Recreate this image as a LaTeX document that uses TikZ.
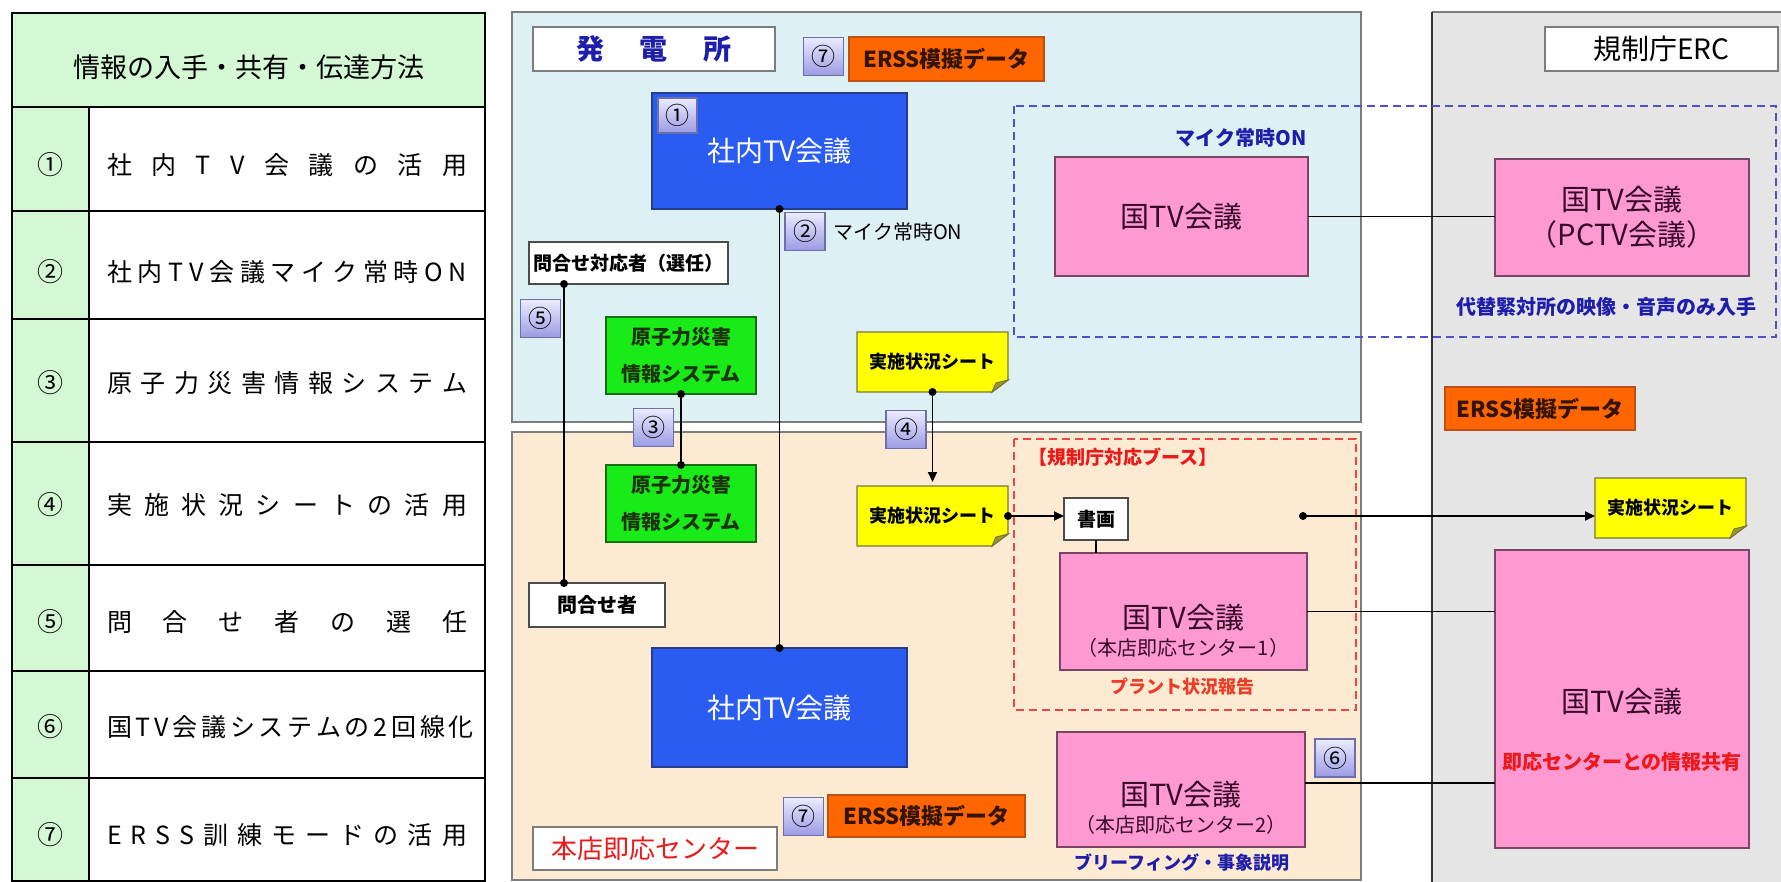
\documentclass[tikz,border=0pt]{standalone}
\usepackage{fontspec}
\setmainfont{Noto Sans CJK JP}
\usetikzlibrary{arrows.meta,calc}
\definecolor{tgreen}{RGB}{212,247,212}
\definecolor{cyanbg}{RGB}{221,241,244}
\definecolor{peachbg}{RGB}{253,234,210}
\definecolor{graybg}{RGB}{229,229,229}
\definecolor{regline}{RGB}{125,125,125}
\definecolor{tvblue}{RGB}{42,92,242}
\definecolor{tvblueline}{RGB}{40,60,140}
\definecolor{tvpink}{RGB}{255,153,210}
\definecolor{pinkline}{RGB}{120,70,100}
\definecolor{pinktext}{RGB}{55,10,40}
\definecolor{sysgreen}{RGB}{25,235,25}
\definecolor{sysline}{RGB}{20,110,20}
\definecolor{greentext}{RGB}{30,50,10}
\definecolor{sheety}{RGB}{255,255,0}
\definecolor{sheetline}{RGB}{120,120,60}
\definecolor{folddark}{RGB}{160,150,40}
\definecolor{erssor}{RGB}{255,102,0}
\definecolor{erssline}{RGB}{190,80,20}
\definecolor{erstext}{RGB}{50,20,0}
\definecolor{navy}{RGB}{30,30,170}
\definecolor{redtxt}{RGB}{235,25,25}
\definecolor{plantred}{RGB}{235,60,40}
\definecolor{badgetop}{RGB}{235,235,255}
\definecolor{badgebot}{RGB}{155,155,228}
\definecolor{badgeline}{RGB}{110,110,170}
\definecolor{dashblue}{RGB}{80,80,200}
\definecolor{dashred}{RGB}{235,70,70}
\pgfdeclarelayer{back}\pgfdeclarelayer{mid}\pgfsetlayers{back,mid,main}
\newcommand\fsz[2]{\fontsize{#1}{#2}\selectfont}
\newcommand\stickyshape[1]{%
  \filldraw[fill=sheety, draw=sheetline, line width=0.7pt] (#1.north west) -- (#1.north east) -- ($(#1.south east)+(0,-12)$) -- ($(#1.south east)+(-16,0)$) -- (#1.south west) -- cycle;
  \filldraw[fill=folddark, draw=sheetline, line width=0.5pt] ($(#1.south east)+(0,-12)$) -- ($(#1.south east)+(-16,0)$) -- ($(#1.south east)+(-12,-9)$) -- cycle;}
\newcommand\dotat[1]{\fill (#1) circle[radius=2pt];}
\begin{document}
\begin{tikzpicture}[x=0.5pt,y=-0.5pt,
  sz/.style 2 args={minimum width=#1*0.5pt, minimum height=#2*0.5pt},
  base/.style={rectangle, inner sep=0pt, outer sep=0pt, align=center},
  labelbox/.style={base, fill=white, draw=regline, line width=0.9pt},
  tvbox/.style={base, fill=tvblue, draw=tvblueline, line width=0.8pt, text=white, font=\fsz{14pt}{17pt}},
  pinkbox/.style={base, fill=tvpink, draw=pinkline, line width=0.8pt, text=pinktext},
  pinktxt/.style={text=pinktext, inner sep=0pt},
  sysbox/.style={base, fill=sysgreen, draw=sysline, line width=0.8pt, text=greentext, font=\bfseries\fsz{10pt}{18.5pt}},
  sheet/.style={base, text=black, font=\bfseries\fsz{9pt}{11pt}},
  erss/.style={base, fill=erssor, draw=erssline, line width=0.8pt, text=erstext, font=\bfseries\fsz{11pt}{13pt}},
  badge/.style={base, top color=badgetop, bottom color=badgebot, draw=badgeline, line width=0.6pt, font=\fsz{12pt}{14pt}, sz={40}{38}},
  whitebox/.style={base, fill=white, draw=black!70, line width=0.8pt, font=\bfseries\fsz{9.5pt}{11pt}},
  note/.style={inner sep=0pt, font=\bfseries\fsz{10pt}{12pt}},
  rowtext/.style={inner sep=0pt, font=\fsz{12.5pt}{15pt}},
  rownum/.style={inner sep=0pt, font=\fsz{13pt}{15pt}},
  conn/.style={draw=black, line width=0.9pt},
  arr/.style={conn, -{Triangle[length=5pt,width=4.5pt]}},
  tline/.style={draw=black, line width=1pt}
]
\useasboundingbox (0,0) rectangle (1781,882);
\begin{pgfonlayer}{back}
  \fill[white] (0,0) rectangle (1781,882);
  \filldraw[fill=cyanbg, draw=regline, line width=0.9pt] (512,12) rectangle (1361,422);
  \filldraw[fill=peachbg, draw=regline, line width=0.9pt] (512,432) rectangle (1361,880);
  \fill[graybg] (1432,12) rectangle (1781,882);
  \draw[regline, line width=0.9pt] (1781,12) -- (1432,12);
  \draw[black!80, line width=0.8pt] (1432,12) -- (1432,882);
  % table
  \fill[tgreen] (12,13) rectangle (485,107);
  \fill[tgreen] (12,107) rectangle (89,881);
  \draw[tline] (12,13) rectangle (485,881);
  \foreach \yy in {107,211,319,442,565,671,778} \draw[tline] (12,\yy) -- (485,\yy);
  \draw[tline] (89,107) -- (89,881);
\end{pgfonlayer}

% table texts
\node[inner sep=0pt, font=\fsz{13.5pt}{16pt}] (hdr) at (249,67) {情報の入手・共有・伝達方法};
\node[rownum] (n1) at (50,165) {①};
\node[rowtext] (t1) at (287,165) {\makebox[180pt][s]{社 内 T V 会 議 の 活 用}};
\node[rownum] (n2) at (50,272) {②};
\node[rowtext] (t2) at (287,272) {\makebox[180pt][s]{社 内 T V 会 議 マ イ ク 常 時 O N}};
\node[rownum] (n3) at (50,383) {③};
\node[rowtext] (t3) at (287,383) {\makebox[180pt][s]{原 子 力 災 害 情 報 シ ス テ ム}};
\node[rownum] (n4) at (50,505) {④};
\node[rowtext] (t4) at (287,505) {\makebox[180pt][s]{実 施 状 況 シ ー ト の 活 用}};
\node[rownum] (n5) at (50,622) {⑤};
\node[rowtext] (t5) at (287,622) {\makebox[180pt][s]{問 合 せ 者 の 選 任}};
\node[rownum] (n6) at (50,727) {⑥};
\node[rowtext] (t6) at (287,727) {\makebox[180pt][s]{国 T V 会 議 シ ス テ ム の 2 回 線 化}};
\node[rownum] (n7) at (50,835) {⑦};
\node[rowtext] (t7) at (287,835) {\makebox[180pt][s]{E R S S 訓 練 モ ー ド の 活 用}};

% power plant
\node[labelbox, sz={242}{44}, text=navy, font=\bfseries\fsz{14pt}{16pt}] (plant) at (654,49) {\makebox[78pt][s]{発 電 所}};
\node[badge] (b7a) at (823.5,56.5) {⑦};
\node[erss, sz={195}{44}] (erss1) at (946.5,59) {ERSS模擬データ};
\node[tvbox, sz={255}{116}] (tv1) at (779.5,151) {社内TV会議};
\node[badge, sz={39}{35}] (b1) at (677.5,115.5) {①};
\node[badge] (b2) at (805,231.5) {②};
\node[anchor=west, inner sep=0pt, font=\fsz{10pt}{12pt}] (mic2) at (833,232) {マイク常時ON};
\node[whitebox, sz={199}{42}] (toi1) at (628.5,263) {問合せ対応者（選任）};
\node[badge] (b5) at (540.5,318.5) {⑤};
\node[sysbox, sz={150}{77}] (sys1) at (681,355.5) {原子力災害\\情報システム};
\node[badge] (b3) at (653.5,427.5) {③};
\node[sheet, sz={151}{60}] (yel1) at (932.5,362) {実施状況シート};
\node[badge] (b4) at (906,429.5) {④};

% head office
\node[sysbox, sz={150}{77}] (sys2) at (681,503.5) {原子力災害\\情報システム};
\node[sheet, sz={151}{60}] (yel2) at (932.5,516) {実施状況シート};
\node[whitebox, sz={136}{44}, font=\bfseries\fsz{10pt}{12pt}] (toi2) at (597,605) {問合せ者};
\node[tvbox, sz={255}{119}] (tv2) at (779.5,707.5) {社内TV会議};
\node[badge] (b7b) at (803.5,816.5) {⑦};
\node[erss, sz={197}{42}] (erss2) at (926.5,816) {ERSS模擬データ};
\node[labelbox, sz={244}{43}, text=redtxt, font=\fsz{13pt}{15pt}] (honten) at (655,848.5) {本店即応センター};

% national TV (plant side and ERC)
\node[pinkbox, sz={253}{119}, font=\fsz{14.5pt}{17pt}] (kp) at (1181.5,216.5) {国TV会議};
\node[note, text=navy] (micb) at (1241,138) {マイク常時ON};
\node[pinkbox, sz={254}{117}, font=\fsz{14.5pt}{17.5pt}] (pctv) at (1622,217.5) {国TV会議\\（PCTV会議）};
\node[note, text=navy] (alt) at (1606,307) {代替緊対所の映像・音声のみ入手};
\node[labelbox, sz={233}{44}, font=\fsz{14pt}{16pt}] (erc) at (1661.5,49) {規制庁ERC};
\node[erss, sz={190}{43}] (erss3) at (1540,408.5) {ERSS模擬データ};

% booth
\node[anchor=west, inner sep=0pt, text=redtxt, font=\bfseries\fsz{9.5pt}{11pt}] (booth) at (1028,457) {【規制庁対応ブース】};
\node[whitebox, sz={64}{42}] (shoga) at (1096,519) {書画};
\node[pinkbox, sz={247}{117}] (ho1) at (1183.5,611.5) {};
\node[pinktxt, font=\fsz{14.5pt}{17pt}] (ho1a) at (1183.5,618) {国TV会議};
\node[pinktxt, font=\fsz{10pt}{12pt}] (ho1b) at (1183.5,648) {（本店即応センター1）};
\node[note, text=plantred, font=\bfseries\fsz{9pt}{11pt}] (plantrep) at (1182,687) {プラント状況報告};
\node[pinkbox, sz={248}{115}] (ho2) at (1181,789.5) {};
\node[pinktxt, font=\fsz{14.5pt}{17pt}] (ho2a) at (1181,795) {国TV会議};
\node[pinktxt, font=\fsz{10pt}{12pt}] (ho2b) at (1181,825) {（本店即応センター2）};
\node[badge] (b6) at (1335,758) {⑥};
\node[note, text=navy, font=\bfseries\fsz{9pt}{11pt}] (brief) at (1182,863) {ブリーフィング・事象説明};

% ERC side
\node[sheet, sz={151}{60}] (yel3) at (1670.5,508) {実施状況シート};
\node[pinkbox, sz={254}{298}] (big) at (1622,699) {};
\node[pinktxt, font=\fsz{14.5pt}{17pt}] (biga) at (1622,702) {国TV会議};
\node[note, text=redtxt] (bigb) at (1622,762) {即応センターとの情報共有};

\begin{pgfonlayer}{mid}
  \draw[dashblue, line width=0.7pt, dash pattern=on 4pt off 2.5pt] (1014,106) rectangle (1776,337);
  \draw[dashred, line width=0.8pt, dash pattern=on 4pt off 2.5pt] (1014,439) rectangle (1356,710);
  \stickyshape{yel1}
  \stickyshape{yel2}
  \stickyshape{yel3}
\end{pgfonlayer}

% helper coordinates
\coordinate (x5) at (564,0);
\coordinate (y6) at (0,783);
\coordinate (src) at (1303,516);

% connectors
\draw[conn] (toi1.south -| x5) -- (toi2.north -| x5);
\dotat{toi1.south -| x5}\dotat{toi2.north -| x5}
\draw[conn] (tv1.south) -- (tv2.north);
\dotat{tv1.south}\dotat{tv2.north}
\draw[conn] (sys1.south) -- (sys2.north);
\dotat{sys1.south}\dotat{sys2.north}
\draw[arr] (yel1.south) -- ($(yel2.north)+(0,-4)$);
\dotat{yel1.south}
\draw[arr] (yel2.east) -- (yel2.east -| shoga.west);
\dotat{yel2.east}
\draw[arr] (src) -- (src -| yel3.west);
\dotat{src}
\draw[conn] (shoga.south) -- (shoga.south |- ho1.north);
\draw[conn] (kp.east) -- (kp.east -| pctv.west);
\draw[conn] (ho1.east) -- (ho1.east -| big.west);
\draw[conn] (ho2.east |- y6) -- (big.west |- y6);
\end{tikzpicture}
\end{document}
